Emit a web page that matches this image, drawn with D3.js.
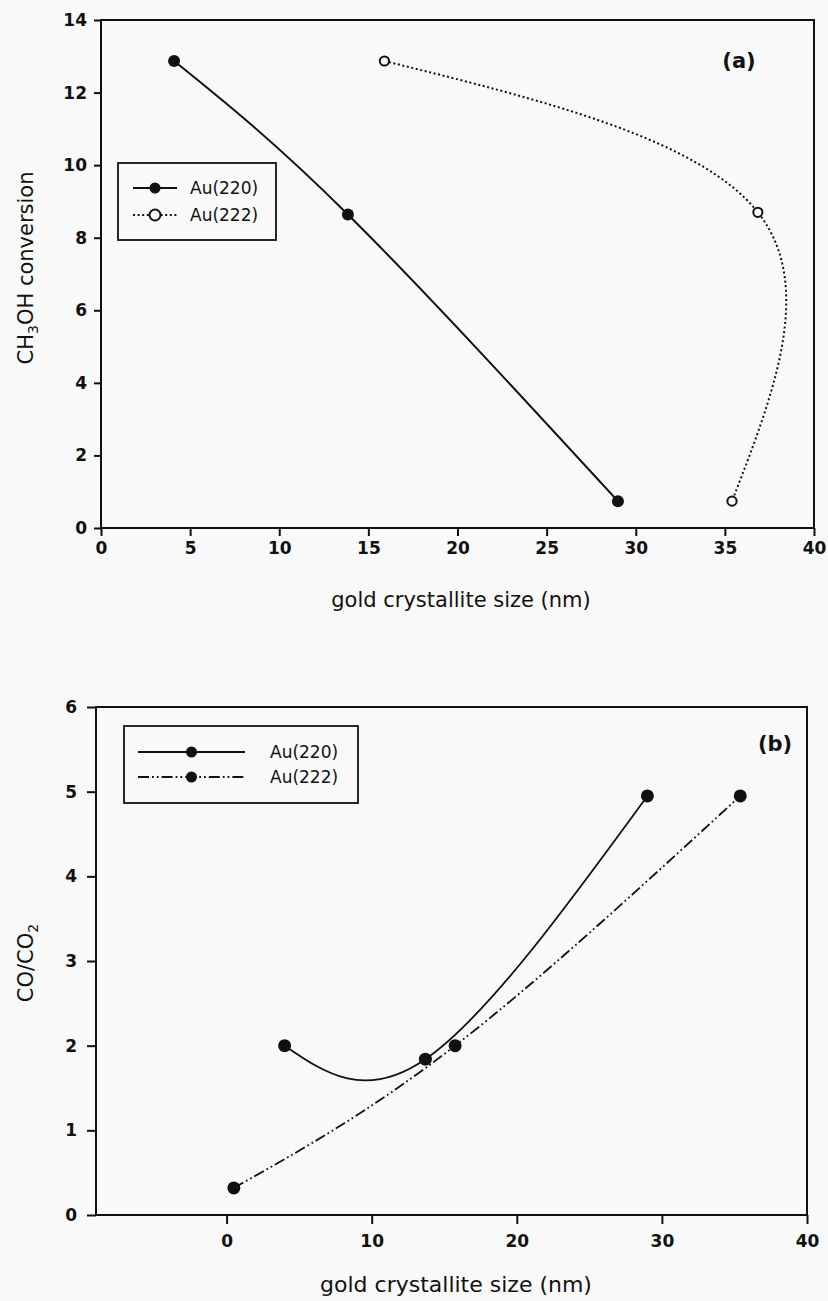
<!DOCTYPE html>
<html>
<head>
<meta charset="utf-8">
<script src="https://cdn.jsdelivr.net/npm/d3@7"></script>
<style>
  body { margin: 0; background: #f9f9f9; }
  svg text { font-family: "DejaVu Sans", sans-serif; fill: #111; }
</style>
</head>
<body>
<div id="chart"></div>
<script>
// panel (a): CH3OH conversion vs gold crystallite size
const sizeA220 = [4.1, 13.85, 29.0];
const convA220 = [12.87, 8.64, 0.74];
const sizeA222 = [15.9, 36.85, 35.4];
const convA222 = [12.87, 8.7, 0.74];

// panel (b): CO/CO2 vs gold crystallite size
const sizeB220 = [4.0, 13.7, 29.0];
const ratioB220 = [2.0, 1.84, 4.95];
const sizeB222 = [0.5, 15.75, 35.4];
const ratioB222 = [0.32, 2.0, 4.95];

const xTicksA = [0, 5, 10, 15, 20, 25, 30, 35, 40];
const yTicksA = [0, 2, 4, 6, 8, 10, 12, 14];
const xTicksB = [0, 10, 20, 30, 40];
const yTicksB = [0, 1, 2, 3, 4, 5, 6];

const seriesNames = ["Au(220)", "Au(222)"];

const W = 828, H = 1301;
const ink = "#111";
const paper = "#f9f9f9";

const svg = d3.select("#chart")
  .append("svg")
  .attr("width", W)
  .attr("height", H);

const zip = (xs, ys) => xs.map((x, i) => [x, ys[i]]);

function styleAxis(a) {
  a.select(".domain").remove();
  a.selectAll("line").attr("stroke", ink).attr("stroke-width", 2);
  a.selectAll("text")
    .attr("font-size", 17)
    .attr("font-weight", "bold")
    .attr("font-family", "DejaVu Sans")
    .attr("fill", ink);
}

function panel(opt) {
  const x = d3.scaleLinear().domain(opt.xDomain).range([opt.left, opt.right]);
  const y = d3.scaleLinear().domain(opt.yDomain).range([opt.bottom, opt.top]);

  const g = svg.append("g");

  g.append("g")
    .attr("transform", `translate(0,${opt.bottom})`)
    .call(d3.axisBottom(x).tickValues(opt.xTicks).tickFormat(d3.format("d"))
      .tickSize(opt.tickX).tickPadding(opt.padX).tickSizeOuter(0))
    .call(styleAxis);

  g.append("g")
    .attr("transform", `translate(${opt.left},0)`)
    .call(d3.axisLeft(y).tickValues(opt.yTicks).tickFormat(d3.format("d"))
      .tickSize(opt.tickY).tickPadding(opt.padY).tickSizeOuter(0))
    .call(styleAxis);

  // frame
  g.append("rect")
    .attr("x", opt.left)
    .attr("y", opt.top)
    .attr("width", opt.right - opt.left)
    .attr("height", opt.bottom - opt.top)
    .attr("fill", "none")
    .attr("stroke", ink)
    .attr("stroke-width", 2);

  const line = d3.line()
    .x(d => x(d[0]))
    .y(d => y(d[1]))
    .curve(d3.curveNatural);

  opt.series.forEach(s => {
    g.append("path")
      .datum(s.data)
      .attr("d", line)
      .attr("fill", "none")
      .attr("stroke", ink)
      .attr("stroke-width", s.width)
      .attr("stroke-dasharray", s.dash);

    g.selectAll(null)
      .data(s.data)
      .join("circle")
      .attr("cx", d => x(d[0]))
      .attr("cy", d => y(d[1]))
      .attr("r", s.r)
      .attr("fill", s.open ? paper : ink)
      .attr("stroke", ink)
      .attr("stroke-width", s.open ? 2 : 0);
  });

  // x title
  g.append("text")
    .attr("x", opt.xTitlePos[0])
    .attr("y", opt.xTitlePos[1])
    .attr("text-anchor", "middle")
    .attr("font-size", opt.xTitleSize)
    .text("gold crystallite size (nm)");

  // y title with subscript
  const yt = g.append("text")
    .attr("transform", `translate(${opt.yTitlePos[0]},${opt.yTitlePos[1]}) rotate(-90)`)
    .attr("text-anchor", "middle")
    .attr("font-size", 21);
  opt.yTitle.forEach(part => {
    const t = yt.append("tspan").text(part.t);
    if (part.sub) t.attr("font-size", 14).attr("dy", 5);
    else if (part.after) t.attr("dy", -5);
  });

  // panel tag
  g.append("text")
    .attr("x", opt.tagPos[0])
    .attr("y", opt.tagPos[1])
    .attr("text-anchor", "middle")
    .attr("font-size", 21)
    .attr("font-weight", "bold")
    .text(opt.tag);

  // legend
  const L = opt.legend;
  g.append("rect")
    .attr("x", L.x0).attr("y", L.y0)
    .attr("width", L.x1 - L.x0).attr("height", L.y1 - L.y0)
    .attr("fill", "none").attr("stroke", ink).attr("stroke-width", 1.8);

  opt.series.forEach((s, i) => {
    const ry = L.rows[i];
    g.append("line")
      .attr("x1", L.lx0).attr("x2", L.lx1)
      .attr("y1", ry).attr("y2", ry)
      .attr("stroke", ink).attr("stroke-width", s.width)
      .attr("stroke-dasharray", s.dash);
    g.append("circle")
      .attr("cx", (L.lx0 + L.lx1) / 2).attr("cy", ry)
      .attr("r", L.r)
      .attr("fill", s.open ? paper : ink)
      .attr("stroke", ink)
      .attr("stroke-width", s.open ? 2 : 0);
    g.append("text")
      .attr("x", L.tx).attr("y", ry)
      .attr("dy", "0.36em")
      .attr("font-size", 17)
      .text(seriesNames[i]);
  });
}

panel({
  xDomain: [0, 40], yDomain: [0, 14],
  left: 101, right: 814, top: 20, bottom: 528,
  xTicks: xTicksA, yTicks: yTicksA,
  tickX: 8, padX: 6, tickY: 7, padY: 7,
  series: [
    { data: zip(sizeA220, convA220), width: 2, dash: null, r: 6, open: false },
    { data: zip(sizeA222, convA222), width: 2, dash: "2,2.6", r: 4.6, open: true }
  ],
  xTitlePos: [461, 607], xTitleSize: 21,
  yTitlePos: [33, 268],
  yTitle: [{ t: "CH" }, { t: "3", sub: true }, { t: "OH conversion", after: true }],
  tag: "(a)", tagPos: [739, 68],
  legend: { x0: 118, x1: 276, y0: 163, y1: 240, rows: [188, 215], lx0: 133, lx1: 177, tx: 190, r: 5.5 }
});

panel({
  xDomain: [-9, 40], yDomain: [0, 6],
  left: 96, right: 807, top: 707, bottom: 1215,
  xTicks: xTicksB, yTicks: yTicksB,
  tickX: 9, padX: 11, tickY: 9, padY: 10,
  series: [
    { data: zip(sizeB220, ratioB220), width: 1.8, dash: null, r: 6.5, open: false },
    { data: zip(sizeB222, ratioB222), width: 1.8, dash: "11,3,1.8,3,1.8,3", r: 6.5, open: false }
  ],
  xTitlePos: [456, 1292], xTitleSize: 22,
  yTitlePos: [33, 963],
  yTitle: [{ t: "CO/CO" }, { t: "2", sub: true }],
  tag: "(b)", tagPos: [775, 751],
  legend: { x0: 124, x1: 358, y0: 726, y1: 803, rows: [752, 777], lx0: 138, lx1: 245, tx: 270, r: 5.5 }
});
</script>
</body>
</html>
